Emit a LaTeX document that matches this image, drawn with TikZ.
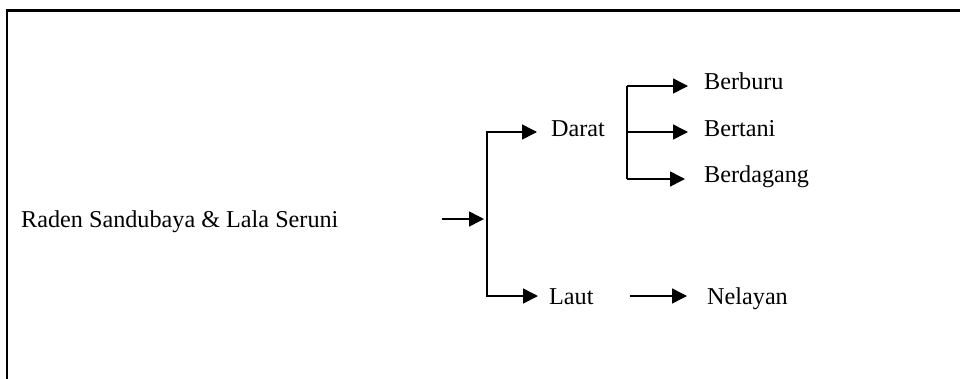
\documentclass[tikz,border=0pt]{standalone}
\usepackage{fontspec}
\setmainfont{Liberation Serif}
\usetikzlibrary{arrows.meta}
\begin{document}
\begin{tikzpicture}[x=1pt,y=-1pt,
  lbl/.style={anchor=base west,inner sep=0pt,font=\fontsize{24.2}{28}\selectfont},
  conn/.style={line width=1.6pt},
  arr/.style={conn,-{Triangle[length=15pt,width=15pt]}},
  frame/.style={line width=2.5pt}]
\useasboundingbox (0,0) rectangle (960,378);
% frame
\coordinate (fbl) at (7,380);
\coordinate (ftl) at (7,10.3);
\coordinate (ftr) at (962,10.3);
\draw[frame] (fbl) -- (ftl) -- (ftr);
% text nodes
\node[lbl] (raden) at (21,227) {Raden Sandubaya \& Lala Seruni};
\node[lbl] (darat) at (551,136) {Darat};
\node[lbl] (laut) at (549,304) {Laut};
\node[lbl] (berburu) at (704,89) {Berburu};
\node[lbl] (bertani) at (704,136) {Bertani};
\node[lbl] (berdagang) at (704,182) {Berdagang};
\node[lbl] (nelayan) at (707,304) {Nelayan};
% main branch
\coordinate (src) at (442,219);
\coordinate (jin) at (484,219);
\coordinate (j1) at (487,219);
\draw[arr] (src) -- (jin);
\draw[conn] (487,132) -- (487,296);
\draw[arr] (j1) |- ([shift={(-14pt,4pt)}]darat.base west);
\draw[arr] (j1) |- ([shift={(-11pt,8pt)}]laut.base west);
% Darat branches
\coordinate (b1) at (627,86);
\coordinate (b2) at (627,132);
\coordinate (b3) at (627,179);
\draw[conn] (b1) -- (b3);
\draw[arr] (b1) -- ([shift={(-16pt,3pt)}]berburu.base west);
\draw[arr] (b2) -- ([shift={(-16pt,4pt)}]bertani.base west);
\draw[arr] (b3) -- ([shift={(-19pt,3pt)}]berdagang.base west);
% Laut branch
\draw[arr] ([shift={(81pt,8pt)}]laut.base west) -- ([shift={(-20pt,8pt)}]nelayan.base west);
\end{tikzpicture}
\end{document}
